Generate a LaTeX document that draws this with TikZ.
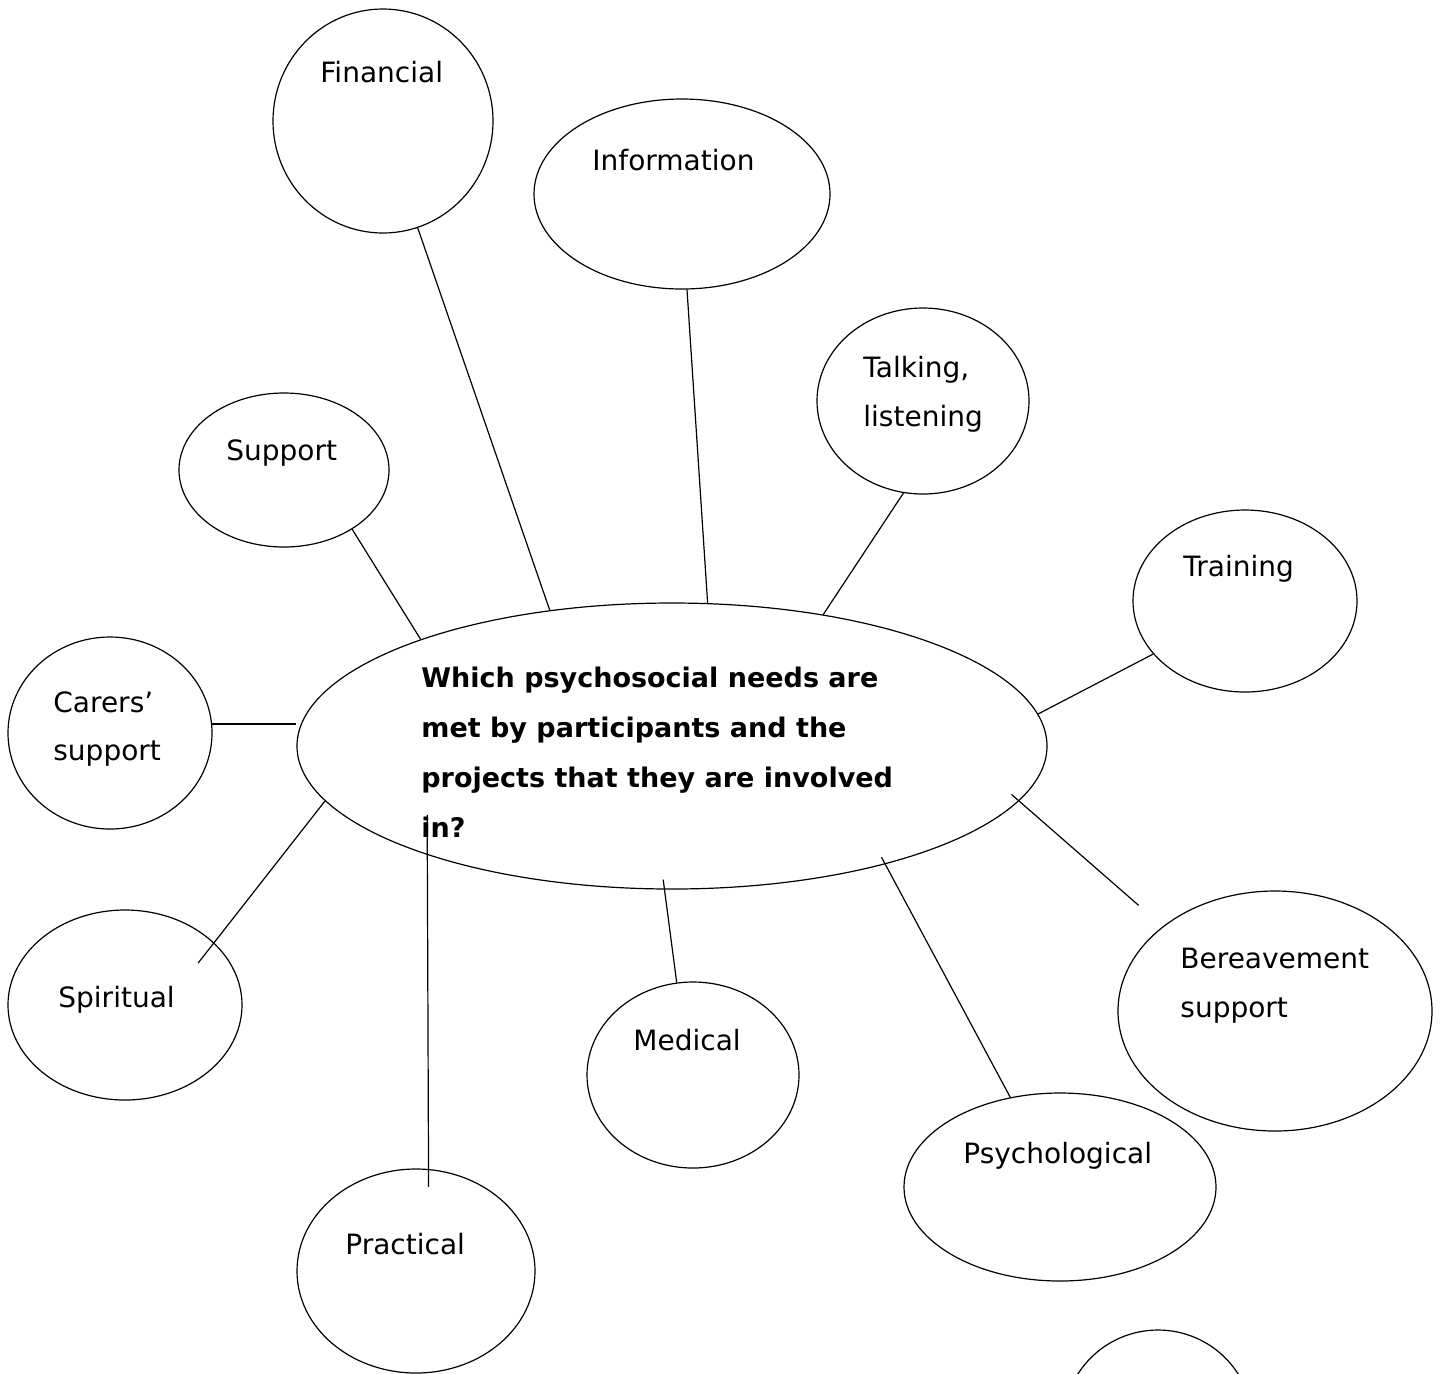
\documentclass[tikz,border=0pt]{standalone}
\usepackage{fontspec}
\setmainfont{DejaVu Sans}
\usetikzlibrary{shapes.geometric}
\tikzstyle{bubble} = [draw, ellipse, inner sep=0pt, line width=0.6pt]
\tikzstyle{lbl} = [inner sep=0pt, anchor=west, align=left, font=\fontsize{14}{24.5}\selectfont]
\tikzstyle{link} = [-, line width=0.6pt]

\begin{document}
\begin{tikzpicture}[x=0.5pt, y=-0.5pt]
                        \clip (0,0) rectangle (1445,1373);
                        % bubbles (sizes in pt = half the pixel axes)
                        \node[bubble, minimum width=375pt, minimum height=143pt](main) at (672,746) {};
                        \node[bubble, minimum width=110pt, minimum height=112pt](fin) at (383,121) {};
                        \node[bubble, minimum width=148pt, minimum height=95pt](info) at (682,194) {};
                        \node[bubble, minimum width=106pt, minimum height=93pt](talk) at (923,401) {};
                        \node[bubble, minimum width=105pt, minimum height=77pt](sup) at (284,470) {};
                        \node[bubble, minimum width=112pt, minimum height=91pt](train) at (1245,601) {};
                        \node[bubble, minimum width=102pt, minimum height=96pt](carer) at (110,733) {};
                        \node[bubble, minimum width=117pt, minimum height=95pt](spir) at (125,1005) {};
                        \node[bubble, minimum width=106pt, minimum height=93pt](med) at (693,1075) {};
                        \node[bubble, minimum width=119pt, minimum height=102pt](prac) at (416,1271) {};
                        \node[bubble, minimum width=156pt, minimum height=94pt](psy) at (1060,1187) {};
                        \node[bubble, minimum width=157pt, minimum height=120pt](ber) at (1275,1011) {};
                        \node[bubble, minimum width=95pt, minimum height=95pt](extra) at (1158,1425) {};

                        % texts
                        \node[lbl, font=\bfseries\fontsize{13.5}{25}\selectfont](mainL) at (421,752) {Which psychosocial needs are\\met by participants and the\\projects that they are involved\\in?};
                        \node[lbl](finL) at (320,72) {Financial};
                        \node[lbl](infoL) at (592,160) {Information};
                        \node[lbl](talkL) at (863,394) {Talking,\\listening};
                        \node[lbl](supL) at (226,453) {Support};
                        \node[lbl](trainL) at (1183,569) {Training};
                        \node[lbl](carerL) at (53,729) {Carers’\\support};
                        \node[lbl](spirL) at (58,1000) {Spiritual};
                        \node[lbl](medL) at (633,1040) {Medical};
                        \node[lbl](pracL) at (345,1244) {Practical};
                        \node[lbl](psyL) at (963,1156) {Psychological};
                        \node[lbl](berL) at (1180,986) {Bereavement\\support};

                        % spokes
                        \draw[link] (main.132.8) -- (fin.-72.6);
                        \draw[link] (main.76.6) -- (info.-87);
                        \draw[link] (main.41.7) -- (talk.-102);
                        \draw[link] (main.157.8) -- (sup.-41.2);
                        \draw[link] (main.5.4) -- (train.210.4);
                        \draw[link] (carer.5.6) -- (carer.5.6 -| main.west);
                        \draw[link, shorten >=-13pt] (main.189.9) -- (spir.35.8);
                        \draw[link, shorten <=-20pt, shorten >=-9pt] (main.204.1) -- (prac.83.2);
                        \draw[link, shorten <=-5pt] (main.-93.9) -- (med.100.5);
                        \draw[link, shorten <=-4pt] (main.-29.1) -- (psy.119);
                        \draw[link, shorten <=-5pt, shorten >=16pt] (main.-9.8) -- (ber.143.9);
                    \end{tikzpicture}
\end{document}
